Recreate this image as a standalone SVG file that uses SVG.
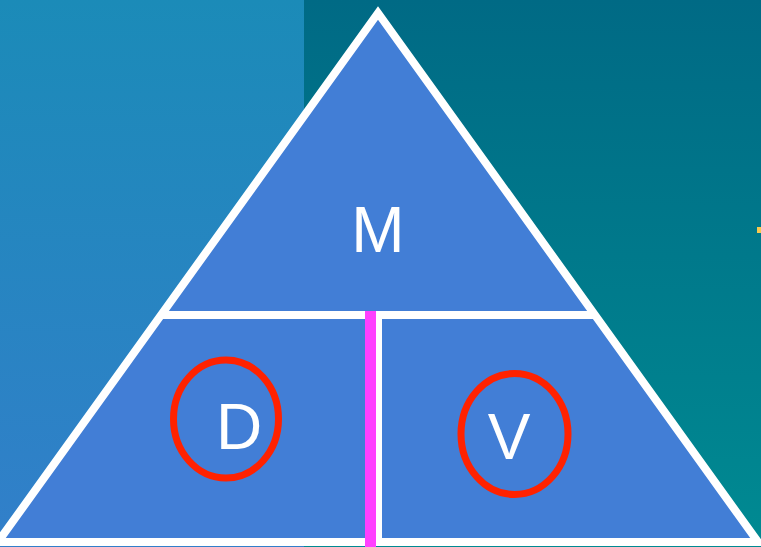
<svg xmlns="http://www.w3.org/2000/svg" width="761" height="547" viewBox="0 0 761 547">
  <defs>
    <linearGradient id="bgLeft" x1="0" y1="0" x2="0" y2="1">
      <stop offset="0" stop-color="#1b8bb8"/>
      <stop offset="1" stop-color="#327fca"/>
    </linearGradient>
    <linearGradient id="bgRight" x1="0" y1="0" x2="0" y2="1">
      <stop offset="0" stop-color="#006a85"/>
      <stop offset="1" stop-color="#008a92"/>
    </linearGradient>
  </defs>
  <style>
    .frame { fill: #427ed6; stroke: #ffffff; stroke-width: 8; stroke-linejoin: miter; }
    .divider { stroke: #ffffff; stroke-width: 8; fill: none; }
    .split { stroke: #ff40ff; stroke-width: 11; fill: none; }
    .ring { fill: none; stroke: #ff2200; stroke-width: 7; }
    .label { font-family: "Liberation Sans", Arial, sans-serif; font-size: 64px; fill: #ffffff; text-anchor: middle; }
  </style>

  <!-- background panels -->
  <rect x="0" y="0" width="304" height="547" fill="url(#bgLeft)"/>
  <rect x="304" y="0" width="457" height="547" fill="url(#bgRight)"/>
  <rect x="757" y="227" width="4" height="6" fill="#f8c850"/>

  <!-- triangle body -->
  <g id="triangle">
    <polygon class="frame" points="378,13 -2,542 758,542"/>
  </g>

  <!-- dividing lines -->
  <g id="connectors">
    <line class="divider" x1="161" y1="315" x2="595" y2="315"/>
    <line class="divider" x1="378" y1="315" x2="378" y2="542"/>
    <line class="split" x1="370.5" y1="311" x2="370.5" y2="547"/>
  </g>

  <g id="node-m">
    <text class="label" x="378" y="252">M</text>
  </g>

  <g id="node-d">
    <ellipse class="ring" cx="226" cy="419" rx="52.5" ry="59"/>
    <text class="label" x="239" y="449">D</text>
  </g>

  <g id="node-v">
    <ellipse class="ring" cx="514.5" cy="434" rx="53.5" ry="60.5"/>
    <text class="label" x="509" y="459">V</text>
  </g>
</svg>
